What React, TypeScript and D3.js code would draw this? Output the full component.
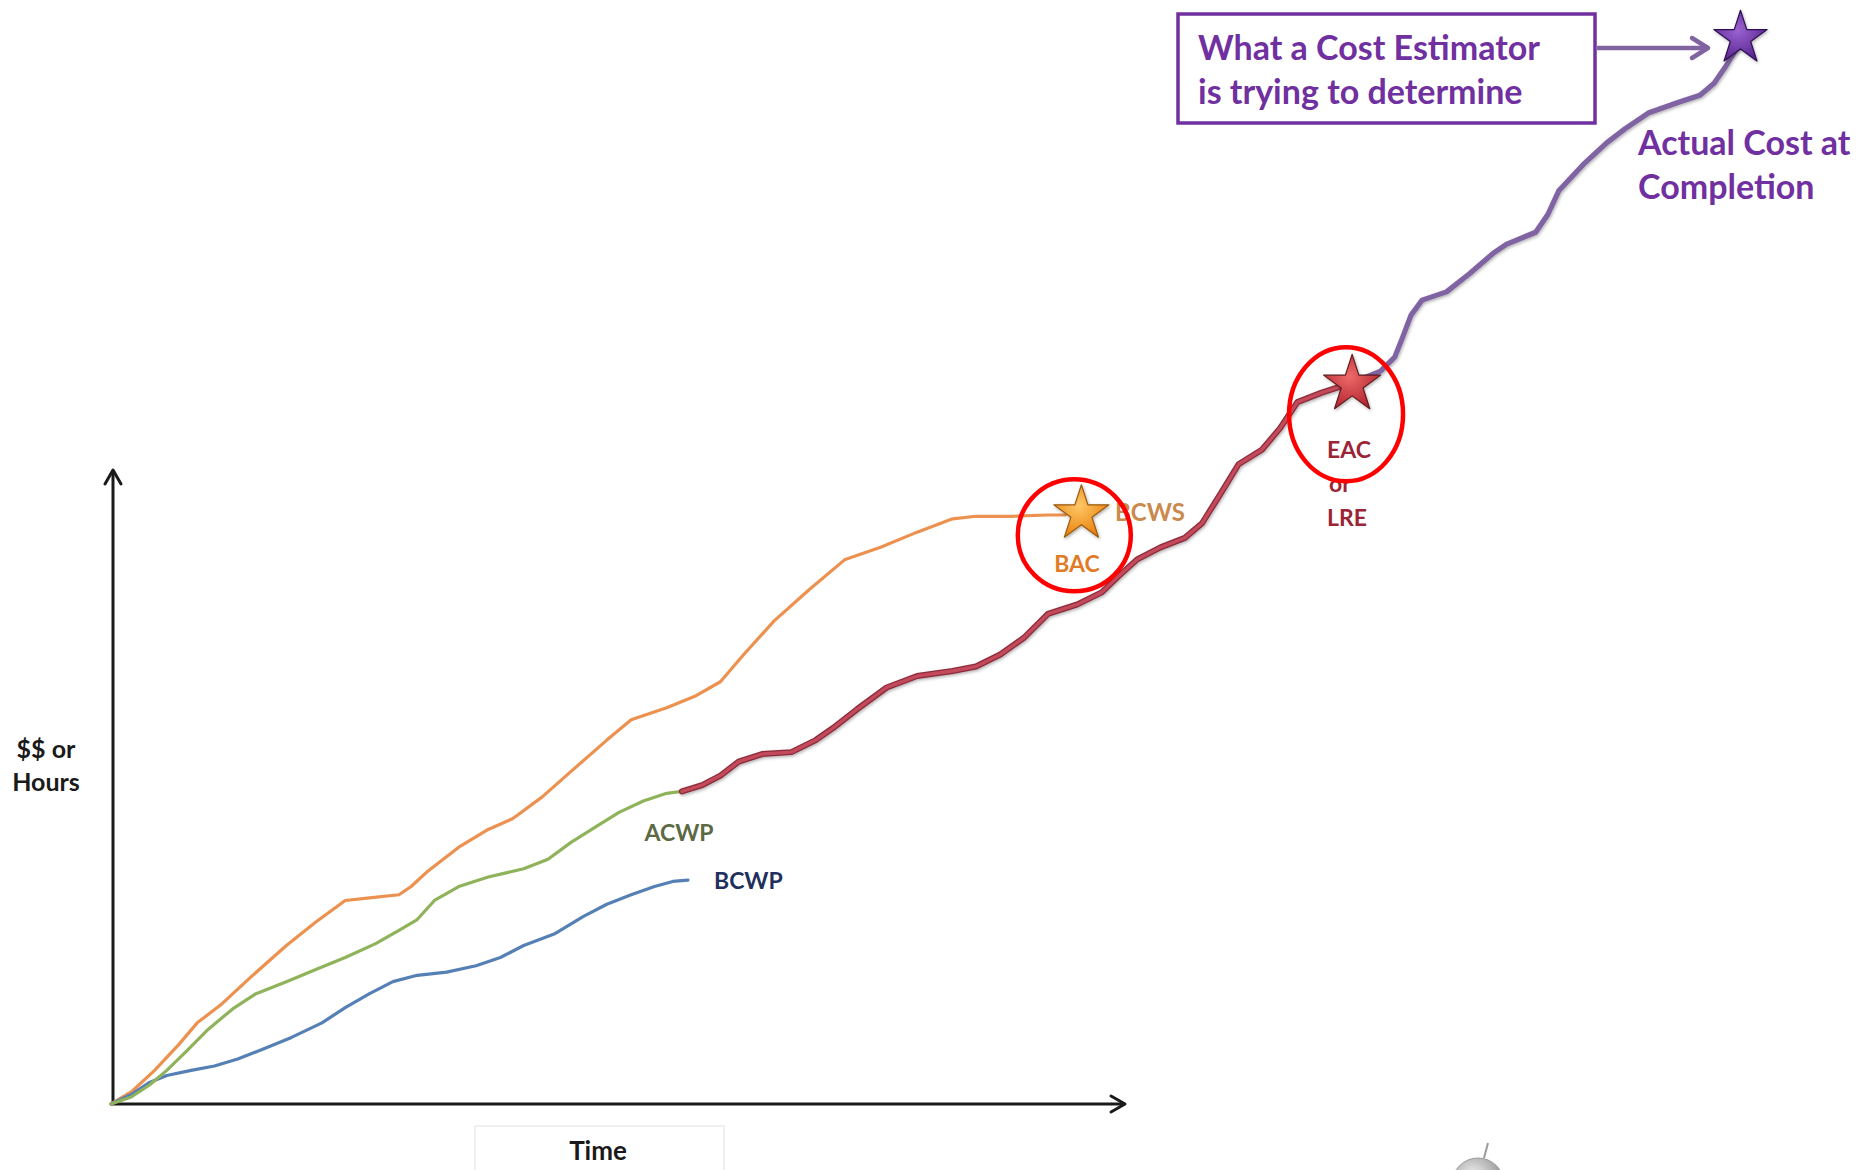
import * as d3 from 'd3';
import { useEffect, useRef } from 'react';

type Pt = [number, number]; // [time, $$ or hours]

// BCWS - planned value, runs out to the BAC
const bcws: Pt[] = [
	[0, 0], [2.0, 1.9], [4.3, 5.3], [6.7, 9.4], [8.5, 12.8], [10.8, 15.6], [13.7, 19.9],
	[17.3, 25.0], [20.2, 28.7], [23.1, 32.1], [25.5, 32.5], [28.4, 33.0], [29.6, 34.3],
	[31.3, 36.8], [34.3, 40.5], [37.2, 43.3], [39.6, 45.0], [42.5, 48.4], [45.4, 52.5],
	[48.9, 57.4], [51.3, 60.6], [54.8, 62.5], [57.7, 64.4], [60.1, 66.6], [62.4, 70.9],
	[65.4, 76.2], [68.9, 81.2], [72.4, 85.9], [75.9, 87.8], [79.5, 90.2], [83.0, 92.3],
	[85.3, 92.7], [88.8, 92.7], [92.4, 92.9], [94.1, 92.9],
];

// ACWP - actual cost to date
const acwp: Pt[] = [
	[0, 0], [2.0, 1.1], [3.8, 3.0], [5.5, 5.3], [7.3, 8.1], [9.6, 11.8], [12.0, 15.0],
	[14.3, 17.4], [17.3, 19.3], [20.2, 21.2], [23.1, 23.1], [26.1, 25.3], [28.4, 27.4],
	[30.2, 29.1], [31.9, 32.1], [34.3, 34.3], [37.2, 35.8], [40.7, 37.1], [43.1, 38.6],
	[45.4, 41.3], [47.8, 43.7], [50.1, 46.0], [52.5, 47.8], [54.8, 49.0], [56.3, 49.3],
];

// BCWP - earned value to date
const bcwp: Pt[] = [
	[0, 0], [2.0, 1.5], [3.8, 3.4], [5.5, 4.5], [7.9, 5.3], [10.2, 6.0], [12.5, 7.1],
	[14.9, 8.6], [17.8, 10.5], [20.8, 12.8], [23.1, 15.2], [25.5, 17.4], [27.8, 19.3],
	[30.2, 20.3], [33.1, 20.8], [36.0, 21.8], [38.4, 23.1], [40.7, 25.0], [43.7, 26.8],
	[46.6, 29.6], [48.9, 31.5], [51.3, 33.0], [53.6, 34.3], [55.4, 35.1], [56.9, 35.3],
];

// estimate to complete, from ACWP end to the EAC
const eac: Pt[] = [
	[56.3, 49.3], [58.3, 50.3], [60.1, 51.8], [61.9, 54.0], [64.2, 55.2], [67.1, 55.5],
	[69.5, 57.4], [71.2, 59.3], [73.6, 62.3], [76.5, 65.7], [79.5, 67.5], [83.0, 68.3],
	[85.3, 69.0], [87.7, 70.9], [90.0, 73.5], [92.4, 77.3], [95.3, 78.8], [97.7, 80.7],
	[99.4, 83.3], [101.2, 85.9], [103.5, 87.8], [105.9, 89.3], [107.6, 91.6], [109.4, 96.2],
	[111.2, 100.9], [113.5, 103.2], [115.3, 106.6], [117.0, 110.7], [119.4, 112.2], [122.3, 113.7],
];

// what the cost really ends up at
const actual: Pt[] = [
	[122.3, 113.7], [125.2, 115.6], [126.6, 117.8], [127.3, 120.6], [128.2, 124.4],
	[129.3, 126.8], [131.7, 128.1], [134.0, 131.0], [136.4, 134.3], [137.6, 135.6],
	[140.5, 137.5], [141.7, 140.3], [142.8, 144.1], [145.2, 148.2], [147.5, 151.6],
	[149.3, 153.8], [151.6, 156.3], [154.6, 158.0], [156.7, 159.1], [158.1, 161.0],
	[159.3, 163.8], [160.7, 167.5],
];

// stars
const starNames = ['BAC', 'EAC', 'ACC'];
const starTime = [95.7, 122.4, 160.7];
const starValue = [93.1, 113.5, 168.1];

// red rings round BAC and EAC
const ringTime = [95.0, 121.8];
const ringValue = [89.7, 108.8];

const W = 1866;
const H = 1170;
const FONT = 'Lato, "Open Sans", sans-serif';

const starStyle: Record<string, { r: number; light: string; dark: string; edge: string }> = {
	BAC: { r: 29, light: '#ffc766', dark: '#e8830f', edge: '#9a5a10' },
	EAC: { r: 30, light: '#ee6a6a', dark: '#b3262e', edge: '#5e1a1e' },
	ACC: { r: 28, light: '#9a62d0', dark: '#5a2690', edge: '#2e0f52' },
};

export default function App() {
	const ref = useRef<SVGSVGElement>(null);

	useEffect(() => {
		const svg = d3.select(ref.current);
		svg.selectAll('*').remove();

		const x = d3.scaleLinear().domain([0, 100]).range([111, 1125]);
		const y = d3.scaleLinear().domain([0, 100]).range([1104, 470]);

		const defs = svg.append('defs');

		// chevron heads for axes
		const addHead = (id: string, color: string, len: number, half: number, sw: number) => {
			defs
				.append('marker')
				.attr('id', id)
				.attr('markerUnits', 'userSpaceOnUse')
				.attr('viewBox', `${-len - 4} ${-half - 4} ${len + 8} ${half * 2 + 8}`)
				.attr('refX', 0)
				.attr('refY', 0)
				.attr('markerWidth', len + 8)
				.attr('markerHeight', half * 2 + 8)
				.attr('orient', 'auto')
				.append('path')
				.attr('d', `M${-len},${-half}L0,0L${-len},${half}`)
				.attr('fill', 'none')
				.attr('stroke', color)
				.attr('stroke-width', sw)
				.attr('stroke-linecap', 'round')
				.attr('stroke-linejoin', 'round');
		};
		addHead('axisHead', '#1a1a1a', 14, 8, 3);
		addHead('purpleHead', '#8064a2', 16, 10, 4.5);

		const shadow = defs.append('filter').attr('id', 'shadow').attr('x', '-20%').attr('y', '-20%').attr('width', '140%').attr('height', '140%');
		shadow.append('feDropShadow').attr('dx', 1).attr('dy', 1.5).attr('stdDeviation', 1.4).attr('flood-color', '#000').attr('flood-opacity', 0.3);

		const soft = defs.append('filter').attr('id', 'soft');
		soft.append('feGaussianBlur').attr('stdDeviation', 0.45);

		starNames.forEach((n) => {
			const s = starStyle[n];
			const g = defs.append('radialGradient').attr('id', `grad-${n}`).attr('cx', '45%').attr('cy', '40%').attr('r', '60%');
			g.append('stop').attr('offset', '0%').attr('stop-color', s.light);
			g.append('stop').attr('offset', '100%').attr('stop-color', s.dark);
		});

		// axes
		const axes = svg.append('g');
		axes
			.append('line')
			.attr('x1', x(0) + 2)
			.attr('y1', y(0))
			.attr('x2', x(0) + 2)
			.attr('y2', y(100))
			.attr('stroke', '#1a1a1a')
			.attr('stroke-width', 3)
			.attr('marker-end', 'url(#axisHead)');
		axes
			.append('line')
			.attr('x1', x(0))
			.attr('y1', y(0))
			.attr('x2', x(100))
			.attr('y2', y(0))
			.attr('stroke', '#1a1a1a')
			.attr('stroke-width', 3)
			.attr('marker-end', 'url(#axisHead)');

		// faint box round the time label
		svg
			.append('rect')
			.attr('x', 475)
			.attr('y', 1126)
			.attr('width', 249)
			.attr('height', 60)
			.attr('fill', 'none')
			.attr('stroke', '#ececec')
			.attr('stroke-width', 1.5);

		const label = (t: string, px: number, py: number, size: number, color: string, anchor = 'middle') =>
			svg
				.append('text')
				.attr('x', px)
				.attr('y', py)
				.attr('text-anchor', anchor)
				.attr('font-family', FONT)
				.attr('font-weight', 700)
				.attr('font-size', size)
				.attr('fill', color)
				.text(t);

		label('$$ or', 46, 758, 25, '#1a1a1a');
		label('Hours', 46, 791, 25, '#1a1a1a');
		label('Time', 598, 1160, 26, '#1a1a1a');

		// series
		const line = d3
			.line<Pt>()
			.x((d) => x(d[0]))
			.y((d) => y(d[1]))
			.curve(d3.curveLinear);

		const draw = (data: Pt[], color: string, width: number, filter: string | null) =>
			svg
				.append('path')
				.datum(data)
				.attr('d', line)
				.attr('fill', 'none')
				.attr('stroke', color)
				.attr('stroke-width', width)
				.attr('stroke-linejoin', 'round')
				.attr('stroke-linecap', 'round')
				.attr('filter', filter);

		draw(bcws, '#ec914f', 3.2, 'url(#soft)');
		draw(bcwp, '#5580b5', 3.2, 'url(#soft)');
		draw(acwp, '#8fb35a', 3.2, 'url(#soft)');
		draw(actual, '#8064a2', 5.2, 'url(#shadow)');
		draw(eac, '#8c2c3a', 6, 'url(#shadow)');
		draw(eac, '#c24a5a', 3.4, null);

		// series labels
		label('BCWS', 1115, 521, 24, '#c98a4c', 'start');
		label('BAC', 1077, 572, 23, '#e07b28');
		label('ACWP', 679, 841, 23, '#5c6a44');
		label('BCWP', 714, 889, 23, '#1f2f5e', 'start');
		label('EAC', 1349, 458, 23, '#9b2536');
		label('or', 1340, 492, 23, '#9b2536');
		label('LRE', 1347, 526, 23, '#9b2536');

		// stars
		starNames.forEach((n, i) => {
			const s = starStyle[n];
			svg
				.append('path')
				.attr('d', d3.symbol(d3.symbolStar, (s.r * s.r) / 0.8908130915292852)())
				.attr('transform', `translate(${x(starTime[i])},${y(starValue[i])})`)
				.attr('fill', `url(#grad-${n})`)
				.attr('stroke', s.edge)
				.attr('stroke-width', 1.2)
				.attr('stroke-linejoin', 'round')
				.attr('filter', 'url(#shadow)');
		});

		// red rings
		const ringR: [number, number][] = [
			[56.5, 56],
			[57, 67],
		];
		ringTime.forEach((t, i) => {
			svg
				.append('ellipse')
				.attr('cx', x(t))
				.attr('cy', y(ringValue[i]))
				.attr('rx', ringR[i][0])
				.attr('ry', ringR[i][1])
				.attr('fill', 'none')
				.attr('stroke', '#ff0000')
				.attr('stroke-width', 4.5);
		});

		// call-out box
		svg
			.append('rect')
			.attr('x', 1178)
			.attr('y', 14)
			.attr('width', 417)
			.attr('height', 109)
			.attr('fill', '#fff')
			.attr('stroke', '#7030a0')
			.attr('stroke-width', 3.5);
		label('What a Cost Estimator', 1198, 60, 34, '#7030a0', 'start');
		label('is trying to determine', 1198, 104, 34, '#7030a0', 'start');

		svg
			.append('line')
			.attr('x1', 1597)
			.attr('y1', 48)
			.attr('x2', 1708)
			.attr('y2', 48)
			.attr('stroke', '#8064a2')
			.attr('stroke-width', 4.5)
			.attr('marker-end', 'url(#purpleHead)');

		label('Actual Cost at', 1638, 155, 34, '#7030a0', 'start');
		label('Completion', 1638, 199, 34, '#7030a0', 'start');

		// logo globe, cut off by the page edge
		const globe = defs.append('radialGradient').attr('id', 'globe').attr('cx', '40%').attr('cy', '35%').attr('r', '65%');
		globe.append('stop').attr('offset', '0%').attr('stop-color', '#f2f2f2');
		globe.append('stop').attr('offset', '100%').attr('stop-color', '#8c8c8c');
		svg
			.append('line')
			.attr('x1', 1484)
			.attr('y1', 1158)
			.attr('x2', 1488)
			.attr('y2', 1143)
			.attr('stroke', '#9a9a9a')
			.attr('stroke-width', 2);
		svg
			.append('circle')
			.attr('cx', 1478)
			.attr('cy', 1184)
			.attr('r', 26)
			.attr('fill', 'url(#globe)')
			.attr('stroke', '#9a9a9a')
			.attr('stroke-width', 1);
	}, []);

	return (
		<svg
			ref={ref}
			width={W}
			height={H}
			viewBox={`0 0 ${W} ${H}`}
			style={{ position: 'absolute', left: 0, top: 0, background: '#fff', display: 'block' }}
		/>
	);
}
